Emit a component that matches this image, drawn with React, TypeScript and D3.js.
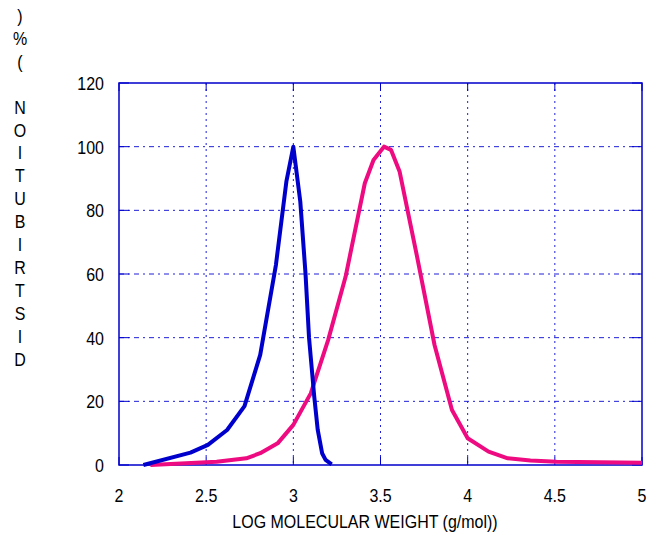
import { useEffect, useRef } from "react";
import * as d3 from "d3";

// log MW vs distribution (%)
const blueLogMw = [2.14, 2.41, 2.51, 2.62, 2.72, 2.81, 2.9, 2.96, 3.0, 3.04, 3.07, 3.09, 3.12, 3.14, 3.165, 3.185, 3.22];
const blueDist = [0, 3.9, 6.3, 11, 18.5, 34.6, 62.8, 89, 100, 82.7, 60, 40, 21.5, 11, 3.7, 1.6, 0.2];

const pinkLogMw = [2.18, 2.56, 2.73, 2.81, 2.91, 3.0, 3.1, 3.2, 3.3, 3.41, 3.46, 3.52, 3.56, 3.61, 3.71, 3.81, 3.91, 4.0, 4.12, 4.23, 4.36, 4.51, 5.0];
const pinkDist = [0, 1, 2.1, 3.7, 6.8, 12.6, 22.5, 39.3, 59.2, 88.5, 95.8, 100, 99, 92.1, 65.4, 37.7, 17.3, 8.4, 4.2, 2.1, 1.4, 1.0, 0.7];

const xTicks = [2, 2.5, 3, 3.5, 4, 4.5, 5];
const yTicks = [0, 20, 40, 60, 80, 100, 120];
const yTitle = "DISTRIBUTION (%)";
const xTitle = "LOG MOLECULAR WEIGHT (g/mol))";

const width = 650;
const height = 537;
const margin = { left: 119, right: 8, top: 83, bottom: 72 };

export default function App() {
  const svgRef = useRef<SVGSVGElement>(null);

  useEffect(() => {
    const svg = d3.select(svgRef.current);
    svg.selectAll("*").remove();

    const w = width - margin.left - margin.right;
    const h = height - margin.top - margin.bottom;
    const font = "'Liberation Sans', Arial, sans-serif";
    // the original font is a bit taller than Arial at the same width
    const tall = (px: number, py: number) => `translate(${px},${py}) scale(1,1.15)`;

    const x = d3.scaleLinear().domain([2, 5]).range([0, w]);
    const y = d3.scaleLinear().domain([0, 120]).range([h, 0]);

    const g = svg.append("g").attr("transform", `translate(${margin.left},${margin.top})`);

    // grid
    g.append("g")
      .selectAll("line")
      .data(xTicks.slice(1, -1))
      .join("line")
      .attr("x1", (d) => x(d))
      .attr("x2", (d) => x(d))
      .attr("y1", 0)
      .attr("y2", h)
      .attr("stroke", "#2020d8")
      .attr("stroke-width", 1)
      .attr("stroke-dasharray", "2,4");

    g.append("g")
      .selectAll("line")
      .data(yTicks.slice(1, -1))
      .join("line")
      .attr("x1", 0)
      .attr("x2", w)
      .attr("y1", (d) => y(d))
      .attr("y2", (d) => y(d))
      .attr("stroke", "#2020d8")
      .attr("stroke-width", 1)
      .attr("stroke-dasharray", "5,4,2,4");

    // inward ticks on all four sides
    const tk = g.append("g").attr("stroke", "#0000cc").attr("stroke-width", 1);
    yTicks.forEach((t) => {
      tk.append("line").attr("x1", 0).attr("x2", 10).attr("y1", y(t)).attr("y2", y(t));
      tk.append("line").attr("x1", w - 10).attr("x2", w).attr("y1", y(t)).attr("y2", y(t));
    });
    xTicks.forEach((t) => {
      tk.append("line").attr("x1", x(t)).attr("x2", x(t)).attr("y1", h).attr("y2", h - 8);
      tk.append("line").attr("x1", x(t)).attr("x2", x(t)).attr("y1", 0).attr("y2", 8);
    });

    // frame
    g.append("rect")
      .attr("width", w)
      .attr("height", h)
      .attr("fill", "none")
      .attr("stroke", "#0000cc")
      .attr("stroke-width", 1.5);

    // tick labels
    g.append("g")
      .selectAll("text")
      .data(yTicks)
      .join("text")
      .attr("transform", (d) => tall(-15, y(d) + 7))
      .attr("text-anchor", "end")
      .attr("font-family", font)
      .attr("font-size", 16)
      .text((d) => d);

    g.append("g")
      .selectAll("text")
      .data(xTicks)
      .join("text")
      .attr("transform", (d) => tall(x(d), h + 37))
      .attr("text-anchor", "middle")
      .attr("font-family", font)
      .attr("font-size", 16)
      .text((d) => d);

    // curves
    const line = d3
      .line<[number, number]>()
      .x((d) => x(d[0]))
      .y((d) => y(d[1]));

    g.append("path")
      .datum(pinkLogMw.map((v, i) => [v, pinkDist[i]] as [number, number]))
      .attr("fill", "none")
      .attr("stroke", "#ee0a80")
      .attr("stroke-width", 4)
      .attr("stroke-linejoin", "round")
      .attr("d", line);

    g.append("path")
      .datum(blueLogMw.map((v, i) => [v, blueDist[i]] as [number, number]))
      .attr("fill", "none")
      .attr("stroke", "#0000cc")
      .attr("stroke-width", 4)
      .attr("stroke-linejoin", "round")
      .attr("d", line);

    // axis titles
    svg.append("text")
      .attr("transform", tall(365, 528))
      .attr("text-anchor", "middle")
      .attr("font-family", font)
      .attr("font-size", 16)
      .text(xTitle);

    // y title: letters stacked, reading bottom to top
    const letters = yTitle.split("").reverse();
    svg.append("g")
      .selectAll("text")
      .data(letters)
      .join("text")
      .attr("transform", (_, i) => tall(20, 22 + i * 22.9))
      .attr("text-anchor", "middle")
      .attr("font-family", font)
      .attr("font-size", 16)
      .text((d) => d);
  }, []);

  return (
    <svg
      ref={svgRef}
      width={width}
      height={height}
      style={{ position: "absolute", left: 0, top: 0, background: "#fff" }}
    />
  );
}
